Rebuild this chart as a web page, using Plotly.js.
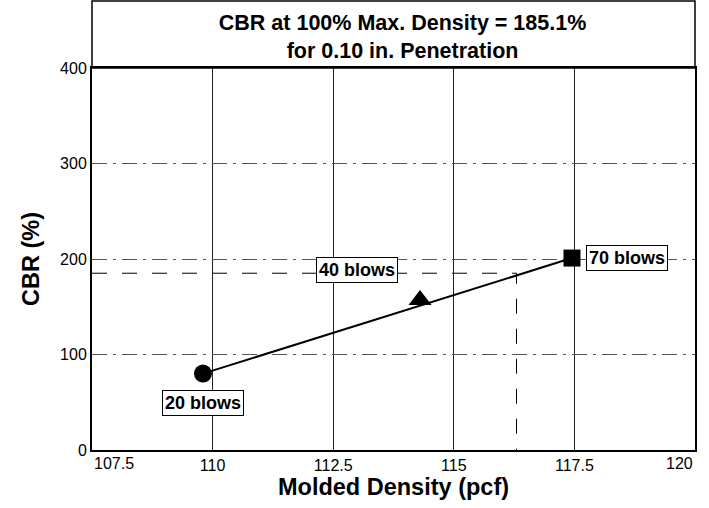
<!DOCTYPE html>
<html>
<head>
<meta charset="utf-8">
<script src="https://cdn.plot.ly/plotly-3.0.1.min.js"></script>
<style>html,body{margin:0;padding:0;background:#fff;}#chart{width:709px;height:508px;}</style>
</head>
<body>
<div id="chart"></div>
<script>
// Data
const blowLabels = ["20 blows", "40 blows", "70 blows"];
const density = [109.8, 114.3, 117.45];       // molded density (pcf)
const cbr = [80, 157, 201];                   // CBR (%)
const markerSymbols = ["circle", "triangle-up", "square"];
const fitDensity = [109.8, 117.45];           // fitted line end points
const fitCbr = [80, 201];
const maxDensity = 116.3;                     // 100% max density
const cbrAtMax = 185.1;                       // CBR at 100% max density
const xTicks = [107.5, 110, 112.5, 115, 117.5, 120];
const xTickText = ["107.5", "110", "112.5", "115", "117.5", "120"];
const yTicks = [0, 100, 200, 300, 400];

const font = "Liberation Sans, Arial, Helvetica, sans-serif";

const traces = [
  {x: fitDensity, y: fitCbr, mode: "lines", line: {color: "#000", width: 2}, hoverinfo: "skip", showlegend: false},
  {x: [xTicks[0], maxDensity, maxDensity], y: [cbrAtMax, cbrAtMax, yTicks[0]], mode: "lines",
   line: {color: "#000", width: 1, dash: "longdash"}, showlegend: false},
  {x: density, y: cbr, mode: "markers", showlegend: false,
   marker: {symbol: markerSymbols, size: [18, 20, 17], color: "#000", opacity: 1, line: {width: 0}}}
];

const annOffsets = [{ax: 0, ay: 29}, {ax: -63, ay: -30}, {ax: 55, ay: 0}];
const annotations = blowLabels.map((t, i) => ({
  x: density[i], y: cbr[i], xref: "x", yref: "y",
  text: "<b>" + t + "</b>", showarrow: true, arrowcolor: "rgba(0,0,0,0)", arrowwidth: 0.1,
  ax: annOffsets[i].ax, ay: annOffsets[i].ay,
  font: {family: font, size: 18, color: "#000"},
  bgcolor: "#fff", bordercolor: "#000", borderwidth: 1, borderpad: 2
}));
// end tick labels kept inside the plot width, as in the reference
const lastI = xTicks.length - 1;
annotations.push(
  {x: xTicks[0], y: 0, xref: "x", yref: "paper", xanchor: "left", yanchor: "top", yshift: -3,
   text: xTickText[0], showarrow: false, font: {family: font, size: 16, color: "#000"}},
  {x: xTicks[lastI], y: 0, xref: "x", yref: "paper", xanchor: "right", yanchor: "top", yshift: -3,
   text: xTickText[lastI], showarrow: false, font: {family: font, size: 16, color: "#000"}}
);
const shownTickText = xTickText.map((t, i) => (i === 0 || i === lastI) ? "" : t);

const layout = {
  width: 709, height: 508,
  margin: {l: 92, r: 14, t: 68, b: 58},
  paper_bgcolor: "#fff", plot_bgcolor: "#fff",
  title: {
    text: "<b>CBR at 100% Max. Density = " + cbrAtMax + "%<br>for 0.10 in. Penetration</b>",
    font: {family: font, size: 21.5, color: "#000"},
    xref: "paper", x: 0.515, xanchor: "center",
    yref: "container", y: 1 - 30 / 508, yanchor: "middle"
  },
  xaxis: {
    range: [107.5, 120], tickvals: xTicks, ticktext: shownTickText,
    showgrid: true, gridcolor: "#222", gridwidth: 1,
    zeroline: false, showline: true, linecolor: "#000", linewidth: 2, mirror: true,
    ticks: "", tickfont: {family: font, size: 16, color: "#000"},
    title: {text: "<b>Molded Density (pcf)</b>", font: {family: font, size: 23.5, color: "#000"}, standoff: 4}
  },
  yaxis: {
    range: [0, 400], tickvals: yTicks,
    showgrid: true, gridcolor: "#555", gridwidth: 1, griddash: "longdashdot",
    zeroline: false, showline: true, linecolor: "#000", linewidth: 2, mirror: true,
    ticks: "", tickfont: {family: font, size: 16, color: "#000"},
    title: {text: "<b>CBR (%)</b>", font: {family: font, size: 23.5, color: "#000"}, standoff: 14}
  },
  shapes: [
    {type: "rect", xref: "paper", yref: "paper", x0: 0, x1: 1, y0: 1, y1: 449 / 382,
     line: {color: "#000", width: 1.5}, fillcolor: "rgba(0,0,0,0)"}
  ],
  annotations: annotations,
  showlegend: false
};

Plotly.newPlot("chart", traces, layout, {displayModeBar: false, staticPlot: true});
</script>
</body>
</html>
